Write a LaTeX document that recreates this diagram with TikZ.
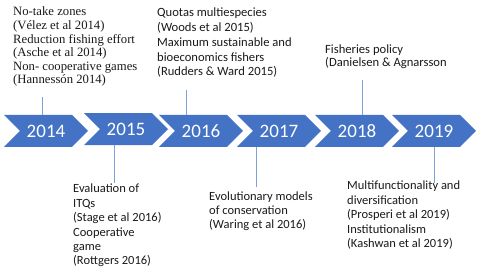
\documentclass[tikz,border=0pt]{standalone}
\usepackage{fontspec}
\setmainfont{Carlito}
\newfontfamily\timesf{Liberation Serif}
\usetikzlibrary{shapes.symbols}
\definecolor{chevblue}{HTML}{4472C4}
\definecolor{linkblue}{HTML}{7FA0D8}
\definecolor{inkc}{HTML}{1A1A1A}
\tikzset{
  yearbox/.style={shape=signal, signal from=west, signal to=east, signal pointer angle=90,
    fill=chevblue, draw=none, minimum width=84pt, minimum height=32pt, inner sep=0pt,
    text=white, font=\fontsize{19}{22}\selectfont},
  note/.style={anchor=base west, inner sep=0pt, text=inkc},
  link/.style={draw=linkblue, line width=0.8pt},
}
\begin{document}
\begin{tikzpicture}[x=1pt,y=-1pt]
\fill[white] (0,0) rectangle (480,272);
\useasboundingbox (0,0) rectangle (480,272);
% chevrons
\node[yearbox] (y14) at (46,131) {2014};
\node[yearbox] (y15) at (126,129.2) {2015};
\node[yearbox] (y16) at (201,131) {2016};
\node[yearbox] (y17) at (279,131) {2017};
\node[yearbox] (y18) at (357,131) {2018};
\node[yearbox] (y19) at (434,131) {2019};
% notes
\node[note, font=\timesf\fontsize{12.7}{13.6}\selectfont] (n14) at (13,16)
  {\begin{tabular}[t]{@{}l@{}}No-take zones\\(Vélez et al 2014)\\Reduction fishing effort\\(Asche et al 2014)\\Non- cooperative games\\(Hannessón 2014)\end{tabular}};
\node[note, font=\fontsize{12.6}{14.7}\selectfont] (n16) at (157,17)
  {\begin{tabular}[t]{@{}l@{}}Quotas multiespecies\\(Woods et al 2015)\\Maximum sustainable and\\bioeconomics fishers\\(Rudders \& Ward 2015)\end{tabular}};
\node[note, font=\fontsize{12.6}{13.5}\selectfont] (n18) at (325,53.3)
  {\begin{tabular}[t]{@{}l@{}}Fisheries policy\\(Danielsen \& Agnarsson\end{tabular}};
\node[note, font=\fontsize{12.5}{14.4}\selectfont] (n15) at (73,193)
  {\begin{tabular}[t]{@{}l@{}}Evaluation of\\ITQs\\(Stage et al 2016)\\Cooperative\\game\\(Rottgers 2016)\end{tabular}};
\node[note, font=\fontsize{12.5}{14}\selectfont] (n17) at (209,201)
  {\begin{tabular}[t]{@{}l@{}}Evolutionary models\\of conservation\\(Waring et al 2016)\end{tabular}};
\node[note, font=\fontsize{12.5}{14.5}\selectfont] (n19) at (347,190)
  {\begin{tabular}[t]{@{}l@{}}Multifunctionality and\\diversification\\(Prosperi et al 2019)\\Institutionalism\\(Kashwan et al 2019)\end{tabular}};
% connectors
\coordinate (t14) at (42,97);
\coordinate (t16) at (186,90);
\coordinate (t18) at (362,80);
\coordinate (b15) at (114,183);
\coordinate (b17) at (256,187);
\coordinate (b19) at (434,183);
\draw[link] (t14) -- (t14 |- y14.north);
\draw[link] (t16) -- (t16 |- y16.north);
\draw[link] (t18) -- (t18 |- y18.north);
\draw[link] (y15.south -| b15) -- (b15);
\draw[link] (y17.south -| b17) -- (b17);
\draw[link] (y19.south -| b19) -- (b19);
\end{tikzpicture}
\end{document}
